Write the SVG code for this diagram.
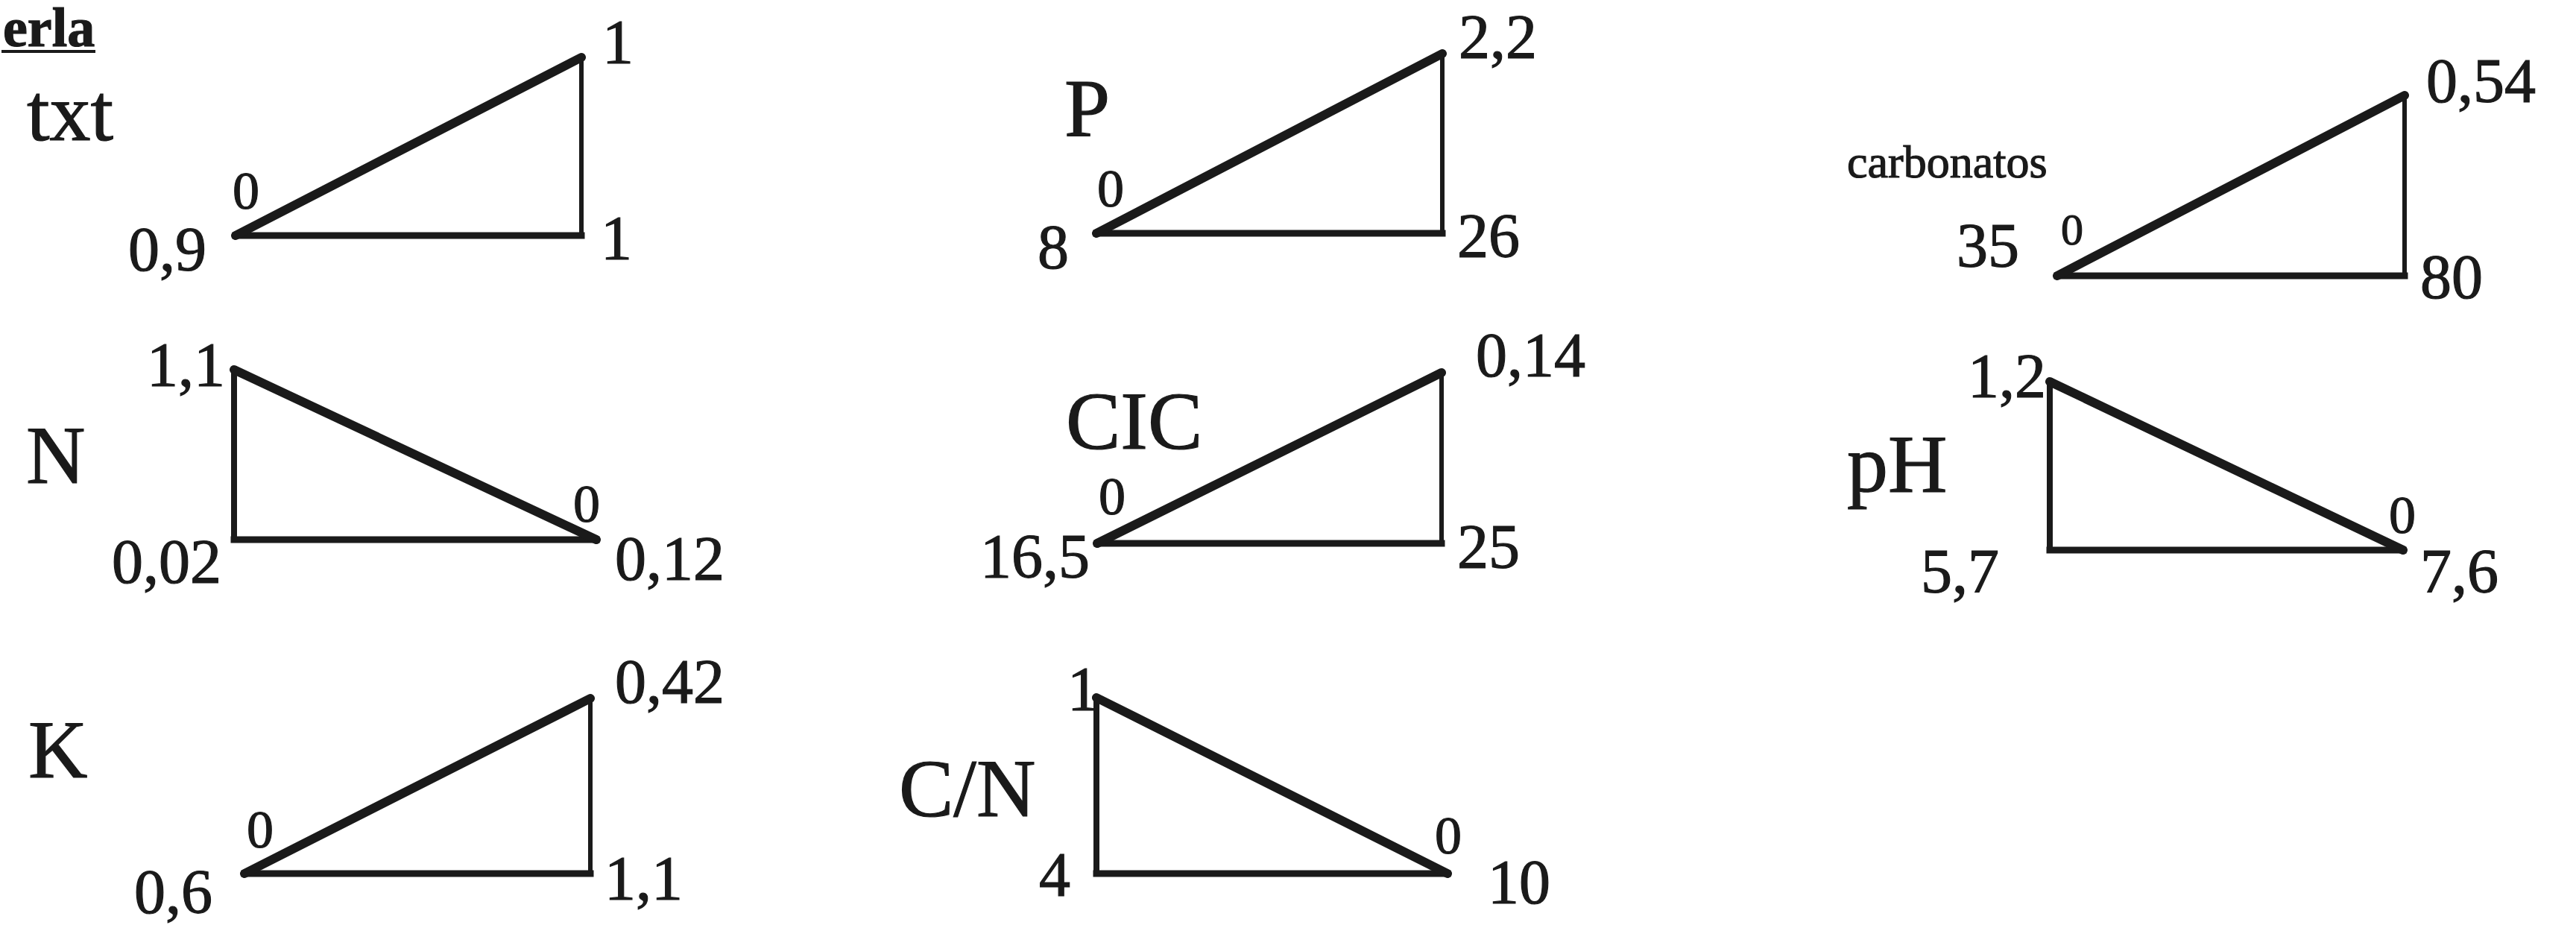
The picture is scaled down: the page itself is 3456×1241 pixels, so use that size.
<svg xmlns="http://www.w3.org/2000/svg" width="3456" height="1241" viewBox="0 0 3456 1241">
<style>
text{font-family:"Liberation Serif","Times New Roman",serif;fill:#1a1a1a;stroke:#1a1a1a;stroke-width:1.2}
.d{font-size:84px}
.z{font-size:72px}
.l{font-size:110px}
.t{font-size:74px;font-weight:bold}
.s{font-size:62px}
.hyp{stroke:#1a1a1a;stroke-width:12;stroke-linecap:round;fill:none}
.base{stroke:#1a1a1a;stroke-width:9;stroke-linecap:square;fill:none}
.vert{stroke:#1a1a1a;stroke-width:6;fill:none}
.vl{stroke:#1a1a1a;stroke-width:8;stroke-linecap:square;fill:none}
</style>
<rect width="3456" height="1241" fill="#ffffff"/>
<g id="title">
<text class="t" x="4" y="62">erla</text>
<line x1="2" y1="69" x2="128" y2="69" stroke="#1a1a1a" stroke-width="4"/>
</g>
<g id="txt">
<line class="base" x1="316" y1="316" x2="780" y2="316"/>
<line class="vert" x1="780" y1="316" x2="780" y2="77"/>
<line class="hyp" x1="316" y1="316" x2="780" y2="77"/>
<text class="l" x="36" y="188">txt</text>
<text class="d" x="808" y="85">1</text>
<text class="z" x="312" y="280">0</text>
<text class="d" x="172" y="363">0,9</text>
<text class="d" x="806" y="348">1</text>
</g>
<g id="P">
<line class="base" x1="1471" y1="313" x2="1935" y2="313"/>
<line class="vert" x1="1935" y1="313" x2="1935" y2="72"/>
<line class="hyp" x1="1471" y1="313" x2="1935" y2="72"/>
<text class="l" x="1428" y="182">P</text>
<text class="d" x="1957" y="78">2,2</text>
<text class="z" x="1472" y="277">0</text>
<text class="d" x="1392" y="360">8</text>
<text class="d" x="1955" y="345">26</text>
</g>
<g id="carbonatos">
<line class="base" x1="2760" y1="370" x2="3226" y2="370"/>
<line class="vert" x1="3226" y1="370" x2="3226" y2="128"/>
<line class="hyp" x1="2760" y1="370" x2="3226" y2="128"/>
<text class="s" x="2478" y="238">carbonatos</text>
<text class="d" x="3255" y="137">0,54</text>
<text class="d" x="2625" y="358">35</text>
<text x="2765" y="328" style="font-size:60px">0</text>
<text class="d" x="3247" y="400">80</text>
</g>
<g id="N">
<line class="vl" x1="314" y1="496" x2="314" y2="724"/>
<line class="base" x1="314" y1="724" x2="800" y2="724"/>
<line class="hyp" x1="314" y1="496" x2="800" y2="724"/>
<text class="d" x="197" y="518">1,1</text>
<text class="l" x="35" y="648">N</text>
<text class="z" x="769" y="700">0</text>
<text class="d" x="825" y="778">0,12</text>
<text class="d" x="150" y="782">0,02</text>
</g>
<g id="CIC">
<line class="base" x1="1472" y1="729" x2="1934" y2="729"/>
<line class="vert" x1="1934" y1="729" x2="1934" y2="500"/>
<line class="hyp" x1="1472" y1="729" x2="1934" y2="500"/>
<text class="d" x="1980" y="505">0,14</text>
<text class="l" x="1430" y="602">CIC</text>
<text class="z" x="1474" y="690">0</text>
<text class="d" x="1315" y="775">16,5</text>
<text class="d" x="1955" y="762">25</text>
</g>
<g id="pH">
<line class="vl" x1="2750" y1="512" x2="2750" y2="738"/>
<line class="base" x1="2750" y1="738" x2="3224" y2="738"/>
<line class="hyp" x1="2750" y1="512" x2="3224" y2="738"/>
<text class="d" x="2640" y="533">1,2</text>
<text class="l" x="2478" y="660">pH</text>
<text class="z" x="3205" y="715">0</text>
<text class="d" x="3247" y="795">7,6</text>
<text class="d" x="2577" y="795">5,7</text>
</g>
<g id="K">
<line class="base" x1="328" y1="1172" x2="792" y2="1172"/>
<line class="vert" x1="792" y1="1172" x2="792" y2="937"/>
<line class="hyp" x1="328" y1="1172" x2="792" y2="937"/>
<text class="d" x="825" y="943">0,42</text>
<text class="l" x="38" y="1043">K</text>
<text class="z" x="331" y="1137">0</text>
<text class="d" x="180" y="1225">0,6</text>
<text class="d" x="811" y="1207">1,1</text>
</g>
<g id="CN">
<line class="vl" x1="1471" y1="936" x2="1471" y2="1172"/>
<line class="base" x1="1471" y1="1172" x2="1942" y2="1172"/>
<line class="hyp" x1="1471" y1="936" x2="1942" y2="1172"/>
<text class="d" x="1432" y="953">1</text>
<text class="l" x="1206" y="1095">C/N</text>
<text class="d" x="1394" y="1202">4</text>
<text class="z" x="1925" y="1145">0</text>
<text class="d" x="1996" y="1212">10</text>
</g>
</svg>
